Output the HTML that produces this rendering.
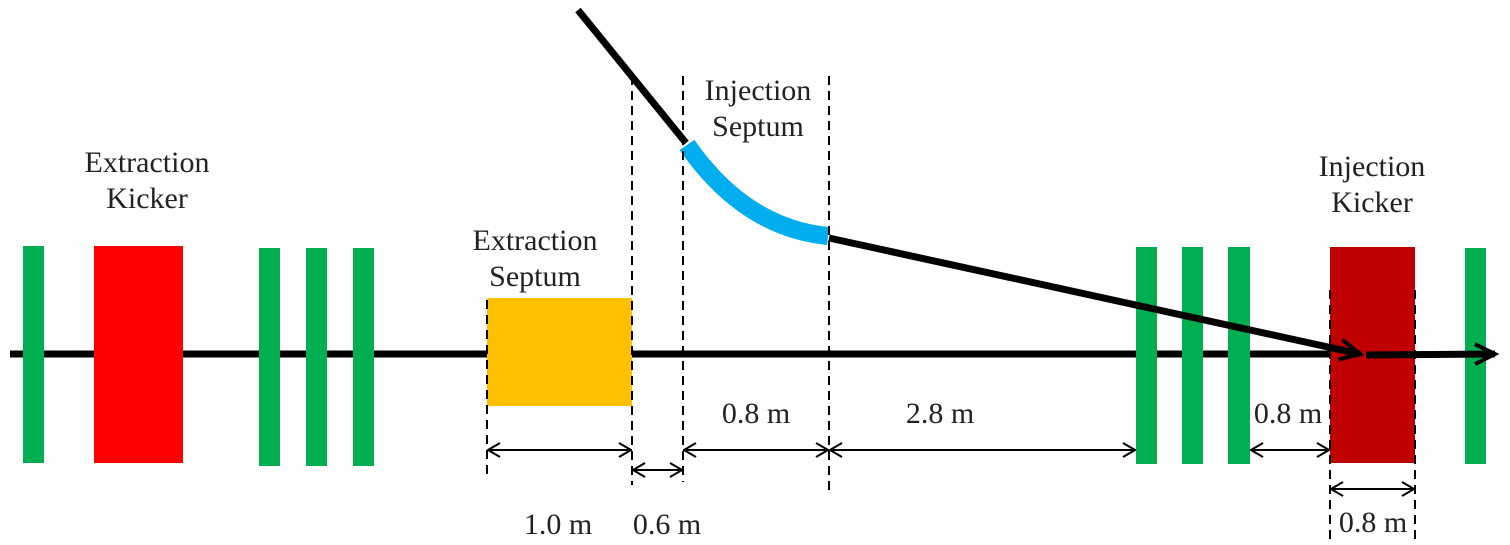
<!DOCTYPE html>
<html><head><meta charset="utf-8"><style>
html,body{margin:0;padding:0;background:#fff;}
svg{display:block;}
text{font-family:"Liberation Serif",serif;font-size:30px;fill:#222;}
</style></head><body>
<svg width="1510" height="545" viewBox="0 0 1510 545">
<defs>
<marker id="ah" markerWidth="14" markerHeight="16" refX="13" refY="8" orient="auto-start-reverse" markerUnits="userSpaceOnUse">
<path d="M1,1 L13,8 L1,15" fill="none" stroke="#000" stroke-width="2"/>
</marker>
<marker id="bh" markerWidth="30" markerHeight="24" refX="22" refY="12" orient="auto" markerUnits="userSpaceOnUse">
<path d="M2,2 L22,12 L2,22" fill="none" stroke="#000" stroke-width="4"/>
</marker>
</defs>
<line x1="10" y1="354" x2="1360" y2="354" stroke="#000" stroke-width="7"/>
<g fill="#00b050">
<rect x="23" y="246" width="21" height="217"/>
<rect x="259" y="248" width="21" height="218"/>
<rect x="306" y="248" width="21" height="218"/>
<rect x="353" y="248" width="21" height="218"/>
<rect x="1136" y="247" width="21" height="217"/>
<rect x="1182" y="247" width="21" height="217"/>
<rect x="1228" y="247" width="22" height="217"/>
<rect x="1465" y="248" width="21" height="216"/>
</g>
<rect x="94" y="246" width="89" height="217" fill="#ff0000"/>
<rect x="1330" y="247" width="85" height="216" fill="#c00000"/>
<rect x="487" y="298" width="145" height="108" fill="#ffc000"/>
<line x1="1366" y1="355" x2="1495" y2="354" stroke="#000" stroke-width="7" marker-end="url(#bh)"/>
<line x1="578" y1="10" x2="686" y2="143" stroke="#000" stroke-width="7"/>
<path d="M687,145 Q745,228 828,236" fill="none" stroke="#00aeef" stroke-width="18"/>
<line x1="829" y1="238" x2="1360" y2="354" stroke="#000" stroke-width="7" marker-end="url(#bh)"/>
<g stroke="#000" stroke-width="2" stroke-dasharray="9,6">
<line x1="487" y1="300" x2="487" y2="480"/>
<line x1="632" y1="76" x2="632" y2="485"/>
<line x1="683" y1="76" x2="683" y2="482"/>
<line x1="829" y1="76" x2="829" y2="492"/>
<line x1="1330" y1="290" x2="1330" y2="540"/>
<line x1="1415" y1="290" x2="1415" y2="540"/>
</g>
<g stroke="#000" stroke-width="2">
<line x1="488" y1="450" x2="631" y2="450" marker-start="url(#ah)" marker-end="url(#ah)"/>
<line x1="633" y1="470" x2="682" y2="470" marker-start="url(#ah)" marker-end="url(#ah)"/>
<line x1="684" y1="450" x2="828" y2="450" marker-start="url(#ah)" marker-end="url(#ah)"/>
<line x1="830" y1="450" x2="1135" y2="450" marker-start="url(#ah)" marker-end="url(#ah)"/>
<line x1="1251" y1="450" x2="1329" y2="450" marker-start="url(#ah)" marker-end="url(#ah)"/>
<line x1="1331" y1="489" x2="1414" y2="489" marker-start="url(#ah)" marker-end="url(#ah)"/>
</g>
<g text-anchor="middle">
<text x="147" y="172">Extraction</text>
<text x="147" y="208">Kicker</text>
<text x="535" y="250">Extraction</text>
<text x="535" y="286">Septum</text>
<text x="758" y="100">Injection</text>
<text x="758" y="136">Septum</text>
<text x="1372" y="176">Injection</text>
<text x="1372" y="212">Kicker</text>
<text x="558" y="534">1.0 m</text>
<text x="667" y="534">0.6 m</text>
<text x="756" y="423">0.8 m</text>
<text x="940" y="423">2.8 m</text>
<text x="1288" y="423">0.8 m</text>
<text x="1373" y="532">0.8 m</text>
</g>
</svg>
</body></html>
